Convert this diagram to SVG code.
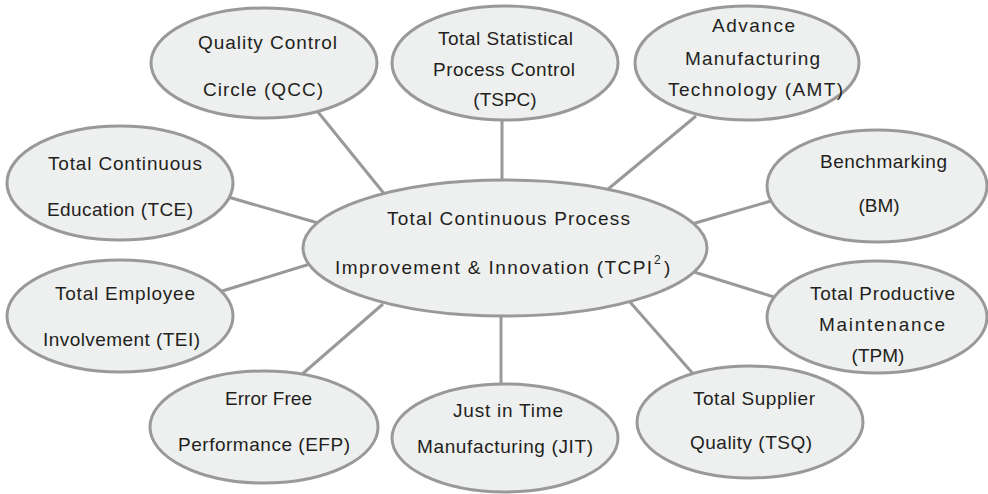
<svg xmlns="http://www.w3.org/2000/svg" width="988" height="494" viewBox="0 0 988 494">
<style>
.n{fill:#eeefef;stroke:#999999;stroke-width:3}
.c line{stroke:#999999;stroke-width:3;stroke-linecap:butt}
text{font-family:"Liberation Sans",Arial,sans-serif;font-size:19px;fill:#231f20}
.m{text-anchor:middle}
.sup{font-size:12px}
</style>
<rect width="988" height="494" fill="#ffffff"/>
<g id="connectors" class="c">
<line x1="318" y1="112" x2="386" y2="196"/>
<line x1="502" y1="116" x2="502" y2="184"/>
<line x1="696" y1="116" x2="607" y2="190"/>
<line x1="228" y1="197" x2="318" y2="223"/>
<line x1="219" y1="292" x2="310" y2="264"/>
<line x1="771" y1="201" x2="692" y2="224"/>
<line x1="694" y1="272" x2="777" y2="298"/>
<line x1="300" y1="376" x2="383" y2="304"/>
<line x1="501" y1="312" x2="501" y2="387"/>
<line x1="695" y1="376" x2="630" y2="302"/>
</g>
<g id="center">
<ellipse class="n" cx="505" cy="248" rx="202" ry="68"/>
<text x="387" y="225" textLength="243" lengthAdjust="spacing">Total Continuous Process</text>
<text x="335" y="274" textLength="317" lengthAdjust="spacing">Improvement &amp; Innovation (TCPI</text>
<text class="sup" x="654" y="264">2</text>
<text x="664" y="274">)</text>
</g>
<g id="qcc">
<ellipse class="n" cx="264" cy="63" rx="113" ry="55"/>
<text x="198" y="49" textLength="139" lengthAdjust="spacing">Quality Control</text>
<text x="203" y="96" textLength="120" lengthAdjust="spacing">Circle (QCC)</text>
</g>
<g id="tspc">
<ellipse class="n" cx="505" cy="63" rx="113" ry="57"/>
<text x="438" y="45" textLength="135" lengthAdjust="spacing">Total Statistical</text>
<text x="433" y="76" textLength="142" lengthAdjust="spacing">Process Control</text>
<text class="m" x="505" y="106">(TSPC)</text>
</g>
<g id="amt">
<ellipse class="n" cx="747" cy="63" rx="112" ry="57"/>
<text x="712" y="32" textLength="83" lengthAdjust="spacing">Advance</text>
<text x="685" y="65" textLength="135" lengthAdjust="spacing">Manufacturing</text>
<text x="668" y="96" textLength="175" lengthAdjust="spacing">Technology (AMT)</text>
</g>
<g id="tce">
<ellipse class="n" cx="120" cy="183" rx="113" ry="57"/>
<text x="48" y="170" textLength="154" lengthAdjust="spacing">Total Continuous</text>
<text x="47" y="216" textLength="146" lengthAdjust="spacing">Education (TCE)</text>
</g>
<g id="tei">
<ellipse class="n" cx="120" cy="316" rx="113" ry="56"/>
<text x="55" y="300" textLength="140" lengthAdjust="spacing">Total Employee</text>
<text x="43" y="346" textLength="157" lengthAdjust="spacing">Involvement (TEI)</text>
</g>
<g id="bm">
<ellipse class="n" cx="877" cy="186" rx="110" ry="56"/>
<text x="820" y="168" textLength="127" lengthAdjust="spacing">Benchmarking</text>
<text class="m" x="879" y="212">(BM)</text>
</g>
<g id="tpm">
<ellipse class="n" cx="877" cy="317" rx="110" ry="56"/>
<text x="810" y="300" textLength="145" lengthAdjust="spacing">Total Productive</text>
<text x="819" y="331" textLength="126" lengthAdjust="spacing">Maintenance</text>
<text class="m" x="878" y="362">(TPM)</text>
</g>
<g id="efp">
<ellipse class="n" cx="264" cy="427" rx="114" ry="56"/>
<text x="225" y="405" textLength="87" lengthAdjust="spacing">Error Free</text>
<text x="178" y="451" textLength="172" lengthAdjust="spacing">Performance (EFP)</text>
</g>
<g id="jit">
<ellipse class="n" cx="505" cy="438" rx="113" ry="54"/>
<text x="453" y="417" textLength="110" lengthAdjust="spacing">Just in Time</text>
<text x="417" y="453" textLength="176" lengthAdjust="spacing">Manufacturing (JIT)</text>
</g>
<g id="tsq">
<ellipse class="n" cx="750" cy="422" rx="113" ry="56"/>
<text x="693" y="405" textLength="122" lengthAdjust="spacing">Total Supplier</text>
<text x="690" y="449" textLength="122" lengthAdjust="spacing">Quality (TSQ)</text>
</g>
</svg>
